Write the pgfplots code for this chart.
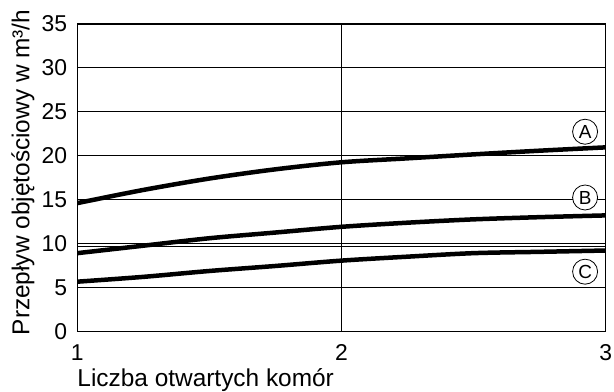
\documentclass[border=0pt]{standalone}
\usepackage{pgfplots}
\pgfplotsset{compat=1.18}
\usepackage{fontspec}
\setmainfont{Liberation Sans}
\begin{document}
\begin{tikzpicture}
\begin{axis}[
  scale only axis, width=528.4bp, height=307.3bp,
  xmin=1, xmax=3, ymin=0, ymax=35,
  xtick={1,2,3}, ytick={0,5,10,15,20,25,30,35},
  extra y ticks={9.7}, extra y tick labels={},
  extra y tick style={grid=major},
  grid=major,
  major grid style={black, line width=0.8bp},
  axis line style={black, line width=1bp},
  tick style={draw=none},
  /pgf/number format/assume math mode=true,
  ticklabel style={font=\fontsize{23}{23}\selectfont, inner sep=0pt},
  xticklabel style={anchor=north, yshift=-13bp},
  yticklabel style={anchor=east, xshift=-10bp},
  xlabel={Liczba otwartych komór},
  ylabel={Przepływ objętościowy w m³/h},
  label style={font=\fontsize{24.5}{24.5}\selectfont, inner sep=0pt},
  xlabel style={at={(axis description cs:0,-0.179)}, anchor=base west},
  ylabel style={at={(axis description cs:-0.0908,0.517)}, anchor=base, rotate=0},
]
\addplot[black, line width=4.5bp, smooth] coordinates {
(1,14.6) (1.25,16.1) (1.5,17.4) (1.75,18.45) (2,19.25) (2.25,19.7) (2.5,20.15) (2.75,20.57) (3,20.95)};
\addplot[black, line width=4.5bp, smooth] coordinates {
(1,8.9) (1.25,9.75) (1.5,10.6) (1.75,11.25) (2,11.9) (2.25,12.37) (2.5,12.75) (2.75,13.0) (3,13.2)};
\addplot[black, line width=4.5bp, smooth] coordinates {
(1,5.65) (1.25,6.2) (1.5,6.87) (1.75,7.44) (2,8.05) (2.25,8.5) (2.5,8.9) (2.75,9.05) (3,9.2)};
\node[circle, draw=black, line width=0.8bp, fill=white, minimum size=25bp, inner sep=0pt, font=\fontsize{19}{19}\selectfont] at (axis cs:2.922,22.73) {A};
\node[circle, draw=black, line width=0.8bp, fill=white, minimum size=25bp, inner sep=0pt, font=\fontsize{19}{19}\selectfont] at (axis cs:2.922,15.24) {B};
\node[circle, draw=black, line width=0.8bp, fill=white, minimum size=25bp, inner sep=0pt, font=\fontsize{19}{19}\selectfont] at (axis cs:2.922,6.79) {C};
\end{axis}
\path[use as bounding box] ([xshift=-77.3bp,yshift=-59.7bp]current axis.south west) rectangle ([xshift=8.3bp,yshift=24bp]current axis.north east);
\end{tikzpicture}
\end{document}
